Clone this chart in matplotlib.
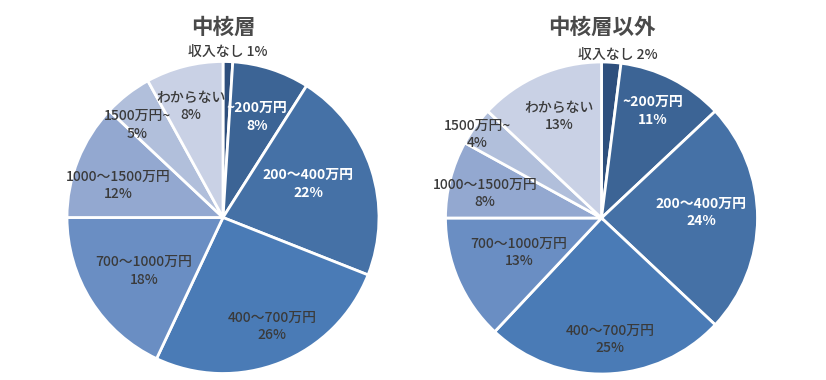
import matplotlib
matplotlib.use("Agg")
import matplotlib.pyplot as plt

plt.rcParams['font.family'] = ['Noto Sans CJK JP', 'DejaVu Sans']

categories = ["収入なし", "~200万円", "200～400万円", "400～700万円",
              "700～1000万円", "1000～1500万円", "1500万円~", "わからない"]
core_values = [1, 8, 22, 26, 18, 12, 5, 8]
other_values = [2, 11, 24, 25, 13, 8, 4, 13]
titles = ["中核層", "中核層以外"]

colors = ["#2e4f7d", "#3c6495", "#4571a6", "#4a7bb6",
          "#6a8ec3", "#93a8d0", "#b1bfdb", "#c9d1e5"]
text_colors = ["#3a3a3a", "white", "white", "#3a3a3a",
               "#3a3a3a", "#3a3a3a", "#3a3a3a", "#3a3a3a"]
weights = ["medium", "bold", "bold", "medium", "medium", "medium", "medium", "medium"]

fig = plt.figure(figsize=(8.26, 3.8), dpi=100)
ax = fig.add_axes([0, 0, 1, 1])
ax.set_xlim(0, 826)
ax.set_ylim(0, 380)
ax.set_aspect('equal')
ax.axis('off')

# label offsets from the pie centre, in units of the radius (layout only)
pies = [
    dict(values=core_values, center=(223, 162.5), title=titles[0],
         off=[(0.03, 1.06), (0.22, 0.645), (0.545, 0.215), (0.314, -0.70),
              (-0.506, -0.343), (-0.673, 0.208), (-0.551, 0.593), (-0.205, 0.712)]),
    dict(values=other_values, center=(601.5, 162), title=titles[1],
         off=[(0.106, 1.045), (0.33, 0.686), (0.638, 0.035), (0.054, -0.776),
              (-0.529, -0.221), (-0.747, 0.16), (-0.798, 0.538), (-0.272, 0.651)]),
]
R = 156

for p in pies:
    cx, cy = p["center"]
    wedges, _ = ax.pie(p["values"], colors=colors, startangle=90, counterclock=False,
                       center=(cx, cy), radius=R,
                       wedgeprops=dict(edgecolor="white", linewidth=2))
    ax.text(cx, 380 - 27, p["title"], ha="center", va="center", fontsize=15.5,
            fontweight="bold", color="#4a4a4a")
    for i, w in enumerate(wedges):
        dx, dy = p["off"][i]
        x = cx + R * dx
        y = cy + R * dy
        if i == 0:
            label = f"{categories[i]} {p['values'][i]}%"
        else:
            label = f"{categories[i]}\n{p['values'][i]}%"
        ax.text(x, y, label, ha="center", va="center", fontsize=10,
                color=text_colors[i], fontweight=weights[i], linespacing=1.3)

ax.set_xlim(0, 826)
ax.set_ylim(0, 380)
fig.savefig("out.png", dpi=100)
